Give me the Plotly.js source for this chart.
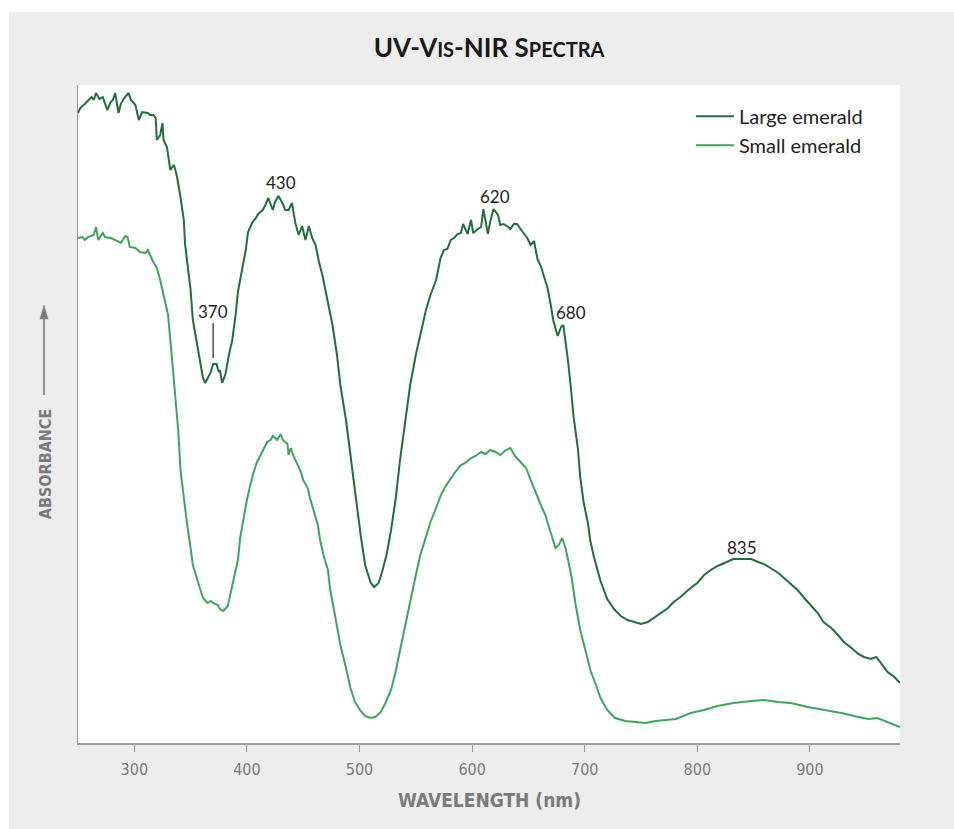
<!DOCTYPE html>
<html>
<head>
<meta charset="utf-8">
<script src="https://cdn.plot.ly/plotly-3.0.1.min.js"></script>
<style>
html,body{margin:0;padding:0;background:#ffffff;}
#chart{position:absolute;left:9px;top:12px;width:945px;height:817px;}
</style>
</head>
<body>
<div id="chart"></div>
<script>
// Wavelength (nm) and relative absorbance (arbitrary units)
const largeWl = [250,252,256,259,262,264,266,269,272,276,279,281,283,286,288,291,295,297,301,304,307,312,314,317,319,320,323,325,326,328,329,332,335,336,338,341,343,344,345,347,
350,352,356,359,361,363,365,368,370,373,375,376,378,381,384,387,390,392,396,399,401,405,408,410,414,416,419,423,425,428,432,434,437,440,443,446,449,452,455,458,461,464,467,470,
472,476,480,483,488,492,496,501,505,510,513,517,520,524,528,532,536,541,545,550,554,559,563,568,572,575,578,581,584,587,590,592,596,599,601,605,608,610,614,616,619,623,625,628,632,634,637,640,643,646,649,652,655,658,661,664,667,670,672,676,679,681,685,688,690,694,696,699,703,705,708,714,720,726,732,738,744,750,756,761,768,774,779,785,
794,800,806,812,818,824,832,841,848,854,859,865,872,877,883,889,895,901,907,912,919,925,930,937,943,948,954,959,963,969,975,980];
const largeAbs = [6.30,6.35,6.39,6.43,6.46,6.43,6.50,6.44,6.46,6.33,6.41,6.43,6.50,6.30,6.39,6.45,6.50,6.43,6.38,6.23,6.31,6.30,6.28,6.28,6.25,6.03,6.08,6.20,6.03,5.98,5.96,5.73,5.78,5.75,5.66,5.46,5.33,5.23,5.00,4.83,
4.53,4.23,3.98,3.81,3.65,3.60,3.65,3.71,3.79,3.79,3.71,3.73,3.60,3.69,3.88,4.03,4.28,4.51,4.75,4.93,5.11,5.21,5.25,5.29,5.33,5.37,5.45,5.33,5.41,5.47,5.39,5.33,5.33,5.40,5.20,5.08,5.17,5.03,5.17,5.05,4.98,4.81,4.68,4.51,
4.38,4.18,3.88,3.58,3.23,2.88,2.48,2.08,1.78,1.60,1.56,1.60,1.71,1.88,2.13,2.43,2.83,3.23,3.58,3.88,4.08,4.33,4.48,4.63,4.85,4.93,4.94,5.03,5.05,5.09,5.10,5.19,5.09,5.23,5.10,5.14,5.16,5.34,5.09,5.21,5.34,5.28,5.18,5.19,5.16,5.14,5.19,5.19,5.14,5.09,5.05,4.98,5.02,4.84,4.77,4.66,4.55,4.37,4.23,4.07,4.16,4.18,3.84,3.52,3.27,2.94,2.66,2.41,2.19,2.02,1.87,1.62,1.44,1.34,1.27,1.23,1.21,1.19,1.21,1.25,1.30,1.35,1.41,1.46,
1.55,1.60,1.68,1.73,1.77,1.80,1.84,1.84,1.84,1.81,1.79,1.75,1.70,1.65,1.59,1.53,1.45,1.37,1.30,1.21,1.15,1.08,1.01,0.95,0.89,0.86,0.84,0.86,0.80,0.71,0.66,0.60];

const smallWl = [250,254,256,259,264,266,268,272,274,279,283,288,292,294,296,301,305,310,312,316,320,323,326,330,332,335,339,341,344,347,350,352,356,359,361,365,368,370,374,376,379,383,385,388,392,394,397,400,403,406,409,412,415,418,421,423,427,430,432,436,437,439,441,445,448,450,454,456,459,463,465,468,472,474,479,483,488,492,496,501,505,510,514,519,523,528,532,536,541,545,550,554,559,563,568,572,576,581,585,590,594,599,603,608,612,616,621,625,630,634,638,643,648,652,656,661,665,670,674,677,680,683,688,692,696,701,705,710,714,720,727,736,745,754,763,772,781,794,806,818,832,848,859,872,883,898,912,928,943,952,960,969,980];
const smallAbs = [5.05,5.06,5.03,5.06,5.08,5.16,5.03,5.10,5.06,5.05,5.03,5.00,5.07,5.06,4.96,4.95,4.91,4.90,4.93,4.83,4.75,4.63,4.48,4.28,4.03,3.63,3.13,2.73,2.43,2.18,1.95,1.78,1.63,1.53,1.45,1.40,1.42,1.40,1.38,1.34,1.32,1.37,1.47,1.63,1.83,2.05,2.25,2.43,2.58,2.71,2.81,2.88,2.95,3.01,3.03,3.07,3.03,3.09,3.03,2.99,2.88,2.95,2.88,2.79,2.71,2.63,2.55,2.45,2.33,2.18,2.03,1.88,1.73,1.53,1.23,0.98,0.75,0.55,0.41,0.32,0.27,0.25,0.26,0.31,0.40,0.53,0.71,0.93,1.18,1.43,1.68,1.88,2.05,2.21,2.35,2.47,2.56,2.65,2.71,2.78,2.80,2.85,2.87,2.91,2.89,2.93,2.91,2.88,2.93,2.95,2.87,2.81,2.75,2.63,2.51,2.38,2.28,2.11,1.95,1.98,2.05,1.95,1.68,1.38,1.13,0.91,0.73,0.58,0.45,0.33,0.25,0.22,0.21,0.20,0.22,0.23,0.24,0.30,0.33,0.37,0.40,0.42,0.43,0.41,0.40,0.36,0.33,0.30,0.26,0.24,0.25,0.21,0.16];

const seriesNames = ['Large emerald', 'Small emerald'];
const peakWl = [430, 620, 688, 840];
const peakAbs = [5.61, 5.47, 4.31, 1.96];
const peakText = ['430', '620', '680', '835'];
const xTicks = [300, 400, 500, 600, 700, 800, 900];

const darkGreen = '#1f6f3d';
const lightGreen = '#3aa65a';
const gray = '#7a7a7a';
const narrow = '"DejaVu Sans Condensed", "Liberation Sans Narrow", sans-serif';

const traces = [
  {x: largeWl, y: largeAbs, name: seriesNames[0], type: 'scatter', mode: 'lines',
   line: {color: darkGreen, width: 2}},
  {x: smallWl, y: smallAbs, name: seriesNames[1], type: 'scatter', mode: 'lines',
   line: {color: lightGreen, width: 2}}
];

const annFont = {family: 'Lato, "Open Sans", sans-serif', size: 17, color: '#222'};
const annotations = peakWl.map((w, i) => ({
  x: w, y: peakAbs[i], xref: 'x', yref: 'y', text: peakText[i], showarrow: false,
  font: annFont, xanchor: 'center', yanchor: 'middle'
}));
annotations.push({
  x: 370, y: 3.85, xref: 'x', yref: 'y', text: '370', showarrow: true,
  arrowhead: 0, arrowwidth: 1.2, arrowcolor: '#222', ax: 0, ay: -47, standoff: 0,
  font: annFont
});
annotations.push({
  x: -0.040, y: 0.424, xref: 'paper', yref: 'paper', text: '<b>ABSORBANCE</b>',
  textangle: -90, showarrow: false, xanchor: 'center', yanchor: 'middle',
  font: {family: narrow, size: 16, color: gray}
});
annotations.push({
  x: 0.5, y: -0.0866, xref: 'paper', yref: 'paper', text: '<b>WAVELENGTH (nm)</b>',
  showarrow: false, xanchor: 'center', yanchor: 'middle',
  font: {family: narrow, size: 19, color: gray}
});

const ax = -0.04136, hw = 0.0049;
const shapes = [
  {type: 'line', xref: 'paper', yref: 'paper', x0: ax, x1: ax, y0: 0.5289, y1: 0.650,
   line: {color: gray, width: 1.6}},
  {type: 'path', xref: 'paper', yref: 'paper',
   path: `M ${ax} 0.6657 L ${ax - hw} 0.6445 L ${ax + hw} 0.6445 Z`,
   fillcolor: gray, line: {color: gray, width: 0.5}}
];

const layout = {
  width: 945, height: 817,
  paper_bgcolor: '#ececec', plot_bgcolor: '#ffffff',
  margin: {l: 69, r: 54, t: 73, b: 86},
  title: {
    text: '<b>UV-V<span style="font-size:20px">IS</span>-NIR S<span style="font-size:20px">PECTRA</span></b>',
    x: 0.508, xref: 'container', xanchor: 'center', y: 0.956, yref: 'container', yanchor: 'middle',
    font: {family: 'Lato, "Open Sans", sans-serif', size: 26, color: '#1a1a1a'}
  },
  xaxis: {
    range: [250, 980], tickvals: xTicks, ticktext: xTicks.map(String),
    ticks: 'outside', ticklen: 7, tickcolor: '#9a9a9a', tickwidth: 1, ticklabelstandoff: 4,
    showline: true, linecolor: '#9a9a9a', linewidth: 1.5, showgrid: false, zeroline: false,
    tickfont: {family: narrow, size: 16, color: gray}
  },
  yaxis: {
    range: [0, 6.58], showticklabels: false, ticks: '', showgrid: false, zeroline: false,
    showline: true, linecolor: '#9a9a9a', linewidth: 1.5
  },
  showlegend: true,
  legend: {
    x: 0.7457, y: 0.982, xanchor: 'left', yanchor: 'top', bgcolor: 'rgba(0,0,0,0)',
    font: {family: 'Lato, "Open Sans", sans-serif', size: 20, color: '#222'},
    tracegroupgap: 0, itemwidth: 38
  },
  annotations: annotations,
  shapes: shapes
};

Plotly.newPlot('chart', traces, layout, {displayModeBar: false, staticPlot: true});
</script>
</body>
</html>
